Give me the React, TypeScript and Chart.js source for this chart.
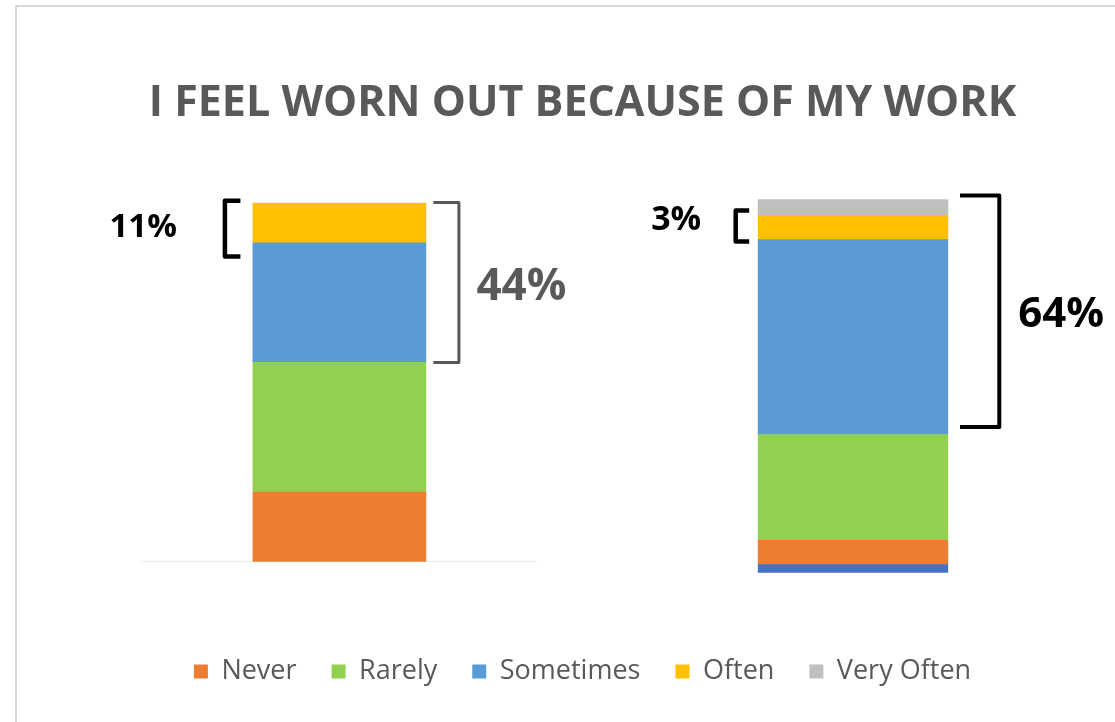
import React, { useEffect, useRef } from "react";
import { Chart, registerables } from "chart.js";

Chart.register(...registerables);

// ---------- data ----------
const chartTitle = "I FEEL WORN OUT BECAUSE OF MY WORK";
const seriesNames = ["Never", "Rarely", "Sometimes", "Often", "Very Often"];
const seriesColors = ["#ED7D31", "#92D050", "#5B9BD5", "#FFC000", "#BFBFBF"];
const unlabeledColor = "#4472C4";

const leftCategory = ["Group 1"];
const leftNever = [19.4];
const leftRarely = [36.1];
const leftSometimes = [33.3];
const leftOften = [11.1];
const leftVeryOften = [0];

const rightCategory = ["Group 2"];
const rightUnlabeled = [2.2];
const rightNever = [6.5];
const rightRarely = [28.3];
const rightSometimes = [52.2];
const rightOften = [6.5];
const rightVeryOften = [4.3];

// bracket spans (value units, cumulative %) and their labels
const leftSmallBracket = { from: 85, to: 100.5, label: "11%" };
const leftLargeBracket = { from: 55.5, to: 100, label: "44%" };
const rightSmallBracket = { from: 88.7, to: 97, label: "3%" };
const rightLargeBracket = { from: 39, to: 101, label: "64%" };

// ---------- plugin drawing brackets relative to the bar ----------
const bracketPlugin = {
  id: "brackets",
  afterDatasetsDraw(chart: any, _args: any, opts: any) {
    const ctx = chart.ctx;
    const yScale = chart.scales.y;
    const meta = chart.getDatasetMeta(0);
    const bar = meta.data[0];
    if (!bar) return;
    const { x, width } = bar.getProps(["x", "width"], true);
    const barLeft = x - width / 2;
    const barRight = x + width / 2;
    for (const b of opts.items || []) {
      const yTop = yScale.getPixelForValue(b.to);
      const yBot = yScale.getPixelForValue(b.from);
      const dir = b.side === "left" ? -1 : 1;
      const edge = b.side === "left" ? barLeft : barRight;
      const tip = edge + dir * b.tipGap;
      const spine = edge + dir * b.spineGap;
      ctx.save();
      ctx.strokeStyle = b.color;
      ctx.lineWidth = b.lineWidth;
      ctx.lineJoin = "round";
      ctx.lineCap = "butt";
      ctx.beginPath();
      ctx.moveTo(tip, yTop);
      ctx.lineTo(spine, yTop);
      ctx.lineTo(spine, yBot);
      ctx.lineTo(tip, yBot);
      ctx.stroke();
      ctx.font = b.font;
      ctx.fillStyle = b.textColor;
      ctx.textBaseline = "middle";
      ctx.textAlign = dir < 0 ? "right" : "left";
      ctx.fillText(b.label, spine + dir * b.labelGap, (yTop + yBot) / 2 + b.labelDy);
      ctx.restore();
    }
  },
};

const FONT = "'Open Sans', 'DejaVu Sans', sans-serif";

export default function App() {
  const mainRef = useRef<HTMLCanvasElement | null>(null);
  const rightRef = useRef<HTMLCanvasElement | null>(null);

  useEffect(() => {
    const leftSeries = [leftNever, leftRarely, leftSometimes, leftOften, leftVeryOften];
    const main = new Chart(mainRef.current as HTMLCanvasElement, {
      type: "bar",
      data: {
        labels: leftCategory,
        datasets: leftSeries.map((d, i) => ({
          label: seriesNames[i],
          data: d,
          backgroundColor: seriesColors[i],
          borderWidth: 0,
          barThickness: 173,
        })),
      },
      options: {
        responsive: false,
        animation: false,
        devicePixelRatio: 1,
        layout: { padding: 0 },
        plugins: {
          title: {
            display: true,
            text: chartTitle,
            color: "#595959",
            font: { family: FONT, size: 43, weight: "bold" },
            padding: { top: 71, bottom: 73 },
          },
          legend: {
            display: true,
            position: "bottom",
            labels: {
              boxWidth: 14,
              boxHeight: 14,
              padding: 35,
              color: "#595959",
              font: { family: FONT, size: 27 },
            },
          },
          tooltip: { enabled: false },
          brackets: {
            items: [
              {
                ...leftSmallBracket,
                side: "left",
                spineGap: 28,
                tipGap: 12.5,
                lineWidth: 4.5,
                color: "#000000",
                textColor: "#000000",
                font: `bold 33px ${FONT}`,
                labelGap: 48,
                labelDy: -1,
              },
              {
                ...leftLargeBracket,
                side: "right",
                spineGap: 33,
                tipGap: 7.5,
                lineWidth: 3,
                color: "#595959",
                textColor: "#595959",
                font: `bold 44px ${FONT}`,
                labelGap: 17.5,
                labelDy: 5,
              },
            ],
          },
        } as any,
        scales: {
          x: {
            stacked: true,
            display: true,
            grid: { display: false },
            ticks: { display: false },
            border: { display: true, color: "#eeeeee", width: 1 },
            afterFit: (s: any) => {
              s.height = 61.3;
            },
          },
          y: {
            stacked: true,
            min: 0,
            max: 100,
            display: true,
            position: "left",
            grid: { display: false },
            ticks: { display: false },
            border: { display: false },
            afterFit: (s: any) => {
              s.width = 124.9;
            },
          },
          pad: {
            type: "linear",
            position: "right",
            display: true,
            grid: { display: false },
            ticks: { display: false },
            border: { display: false },
            afterFit: (s: any) => {
              s.width = 611.1;
            },
          },
        } as any,
      },
      plugins: [bracketPlugin],
    });

    const rightSeries = [rightUnlabeled, rightNever, rightRarely, rightSometimes, rightOften, rightVeryOften];
    const rightColors = [unlabeledColor, ...seriesColors];
    const rightNames = ["", ...seriesNames];
    const right = new Chart(rightRef.current as HTMLCanvasElement, {
      type: "bar",
      data: {
        labels: rightCategory,
        datasets: rightSeries.map((d, i) => ({
          label: rightNames[i],
          data: d,
          backgroundColor: rightColors[i],
          borderWidth: 0,
          barPercentage: 1,
          categoryPercentage: 1,
        })),
      },
      options: {
        responsive: false,
        animation: false,
        devicePixelRatio: 1,
        layout: { padding: { left: 157.7, right: 166.7, top: 49.3, bottom: 27.3 } },
        plugins: {
          legend: { display: false },
          title: { display: false },
          tooltip: { enabled: false },
          brackets: {
            items: [
              {
                ...rightSmallBracket,
                side: "left",
                spineGap: 22,
                tipGap: 8.5,
                lineWidth: 4.5,
                color: "#000000",
                textColor: "#000000",
                font: `bold 34px ${FONT}`,
                labelGap: 34.5,
                labelDy: -5.5,
              },
              {
                ...rightLargeBracket,
                side: "right",
                spineGap: 51,
                tipGap: 11.7,
                lineWidth: 4,
                color: "#000000",
                textColor: "#000000",
                font: `bold 42px ${FONT}`,
                labelGap: 19,
                labelDy: 4,
              },
            ],
          },
        } as any,
        scales: {
          x: { stacked: true, display: false },
          y: { stacked: true, display: false, min: 0, max: 100 },
        },
      },
      plugins: [bracketPlugin],
    });

    return () => {
      main.destroy();
      right.destroy();
    };
  }, []);

  return (
    <div style={{ position: "fixed", inset: 0, overflow: "hidden", background: "#ffffff" }}>
      <div
        style={{
          position: "absolute",
          left: 15,
          top: 5,
          width: 1300,
          height: 900,
          borderLeft: "2px solid #d9d9d9",
          borderTop: "2px solid #d9d9d9",
        }}
      />
      <canvas
        ref={mainRef}
        width={1131}
        height={688}
        style={{ position: "absolute", left: 17, top: 7, width: 1131, height: 688, display: "block" }}
      />
      <canvas
        ref={rightRef}
        width={515}
        height={450}
        style={{ position: "absolute", left: 600, top: 150, width: 515, height: 450, display: "block" }}
      />
    </div>
  );
}
